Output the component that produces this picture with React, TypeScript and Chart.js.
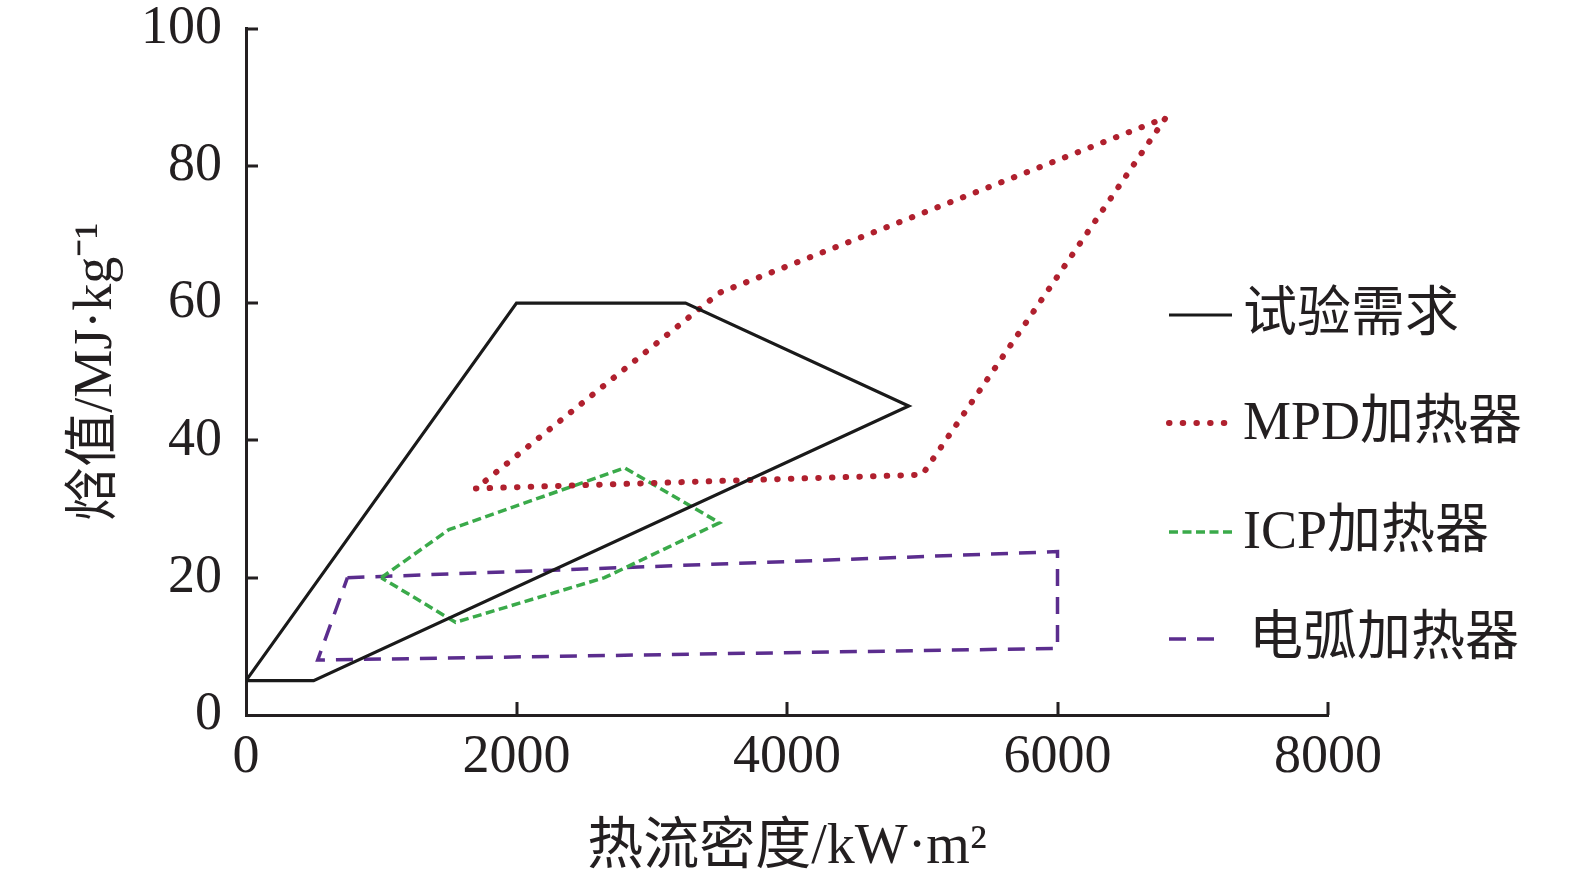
import React, { useEffect, useRef } from "react";
import { Chart, registerables } from "chart.js";

Chart.register(...registerables);

// ---- data ----
const seriesLabels = ["试验需求", "MPD加热器", "ICP加热器", "电弧加热器"];

const demandX = [0, 500, 4900, 3250, 2000, 0];
const demandY = [5, 5, 45, 60, 60, 5];

const mpdX = [1700, 5000, 6800, 3500, 1700];
const mpdY = [33, 35, 87, 61.5, 33];

const icpX = [1000, 1500, 2800, 3500, 2650, 1550, 1000];
const icpY = [20, 27, 36, 28, 20, 13.5, 20];

const arcX = [750, 6000, 6000, 530, 750];
const arcY = [20, 23.8, 9.7, 8, 20];

const xTickValues = [0, 2000, 4000, 6000, 8000];
const yTickValues = [0, 20, 40, 60, 80, 100];

const xTitle = "热流密度/kW·m²";
const yTitle = "焓值/MJ·kg⁻¹";

const pts = (xs: number[], ys: number[]) => xs.map((x, i) => ({ x, y: ys[i] }));

const FONT = '"Liberation Serif", "Times New Roman", "Noto Sans CJK SC", serif';
const INK = "#231f20";

const inwardTicks = {
  id: "inwardTicks",
  afterDraw(chart: any) {
    const { ctx, scales } = chart;
    const x = scales.x;
    const y = scales.y;
    ctx.save();
    ctx.strokeStyle = INK;
    ctx.lineWidth = 3;
    ctx.lineCap = "butt";
    ctx.beginPath();
    x.ticks.forEach((t: any) => {
      if (t.value === 0) return;
      const px = Math.round(x.getPixelForValue(t.value));
      ctx.moveTo(px, x.top);
      ctx.lineTo(px, x.top - 13);
    });
    y.ticks.forEach((t: any) => {
      if (t.value === 0) return;
      const py = Math.round(y.getPixelForValue(t.value));
      ctx.moveTo(y.right, py);
      ctx.lineTo(y.right + 12, py);
    });
    ctx.stroke();
    ctx.restore();
  },
};

const customLegend = {
  id: "customLegend",
  afterDraw(chart: any, _args: any, opts: any) {
    const { ctx } = chart;
    const startX = opts.x;
    const textX = opts.textX;
    const rows = opts.rows;
    const lens = opts.lengths;
    ctx.save();
    chart.data.datasets.forEach((ds: any, i: number) => {
      const yy = rows[i];
      ctx.beginPath();
      ctx.strokeStyle = ds.borderColor;
      ctx.lineWidth = ds.borderWidth;
      ctx.lineCap = ds.borderCapStyle || "butt";
      ctx.setLineDash(ds.borderDash || []);
      ctx.moveTo(startX, yy);
      ctx.lineTo(startX + lens[i], yy);
      ctx.stroke();
      ctx.setLineDash([]);
      ctx.fillStyle = INK;
      ctx.font = `54px ${FONT}`;
      ctx.textBaseline = "middle";
      ctx.textAlign = "left";
      ctx.fillText(ds.label, textX + (opts.textShift[i] || 0), yy + 2);
    });
    ctx.restore();
  },
};

export default function App() {
  const ref = useRef<HTMLCanvasElement | null>(null);

  useEffect(() => {
    if (!ref.current) return;
    const chart = new Chart(ref.current, {
      type: "scatter",
      data: {
        datasets: [
          {
            label: seriesLabels[0],
            data: pts(demandX, demandY),
            borderColor: "#1a1a1a",
            borderWidth: 3.2,
            borderDash: [],
            borderCapStyle: "butt",
            borderJoinStyle: "miter",
          },
          {
            label: seriesLabels[1],
            data: pts(mpdX, mpdY),
            borderColor: "#b0202e",
            borderWidth: 6,
            borderDash: [0.5, 13.2],
            borderCapStyle: "round",
            borderJoinStyle: "round",
          },
          {
            label: seriesLabels[2],
            data: pts(icpX, icpY),
            borderColor: "#3aaa4a",
            borderWidth: 3.5,
            borderDash: [9, 4.5],
            borderCapStyle: "butt",
            borderJoinStyle: "miter",
          },
          {
            label: seriesLabels[3],
            data: pts(arcX, arcY),
            borderColor: "#5b2d8e",
            borderWidth: 3.5,
            borderDash: [17, 11],
            borderCapStyle: "butt",
            borderJoinStyle: "miter",
          },
        ].map((d) => ({
          ...d,
          showLine: true,
          fill: false,
          tension: 0,
          pointRadius: 0,
          pointHoverRadius: 0,
        })) as any,
      },
      options: {
        responsive: false,
        animation: false,
        events: [],
        layout: { padding: { left: 0, right: 247, top: 28.5, bottom: 0 } },
        plugins: {
          legend: { display: false },
          tooltip: { enabled: false },
          customLegend: {
            x: 1169,
            textX: 1243,
            rows: [315, 423, 532, 639],
            lengths: [63, 62, 63, 46],
            textShift: [0, 0, 0, 6],
          },
        } as any,
        scales: {
          x: {
            type: "linear",
            min: 0,
            max: 8000,
            afterBuildTicks: (s: any) => {
              s.ticks = xTickValues.map((v) => ({ value: v }));
            },
            afterFit: (s: any) => {
              s.height = 164;
              s.paddingLeft = 0;
              s.paddingRight = 0;
            },
            grid: { display: false, drawTicks: false },
            border: { display: true, color: INK, width: 3 },
            ticks: {
              color: INK,
              padding: 16,
              maxRotation: 0,
              autoSkip: false,
              font: { family: FONT, size: 54, lineHeight: 1 },
              callback: (v: any) => String(v),
            },
            title: {
              display: true,
              text: xTitle,
              color: INK,
              font: { family: FONT, size: 56, lineHeight: 1 },
              padding: { top: 0, bottom: 3 },
            },
          },
          y: {
            type: "linear",
            min: 0,
            max: 100,
            afterBuildTicks: (s: any) => {
              s.ticks = yTickValues.map((v) => ({ value: v }));
            },
            afterFit: (s: any) => {
              s.width = 246;
              s.paddingTop = 0;
              s.paddingBottom = 0;
            },
            grid: { display: false, drawTicks: false },
            border: { display: true, color: INK, width: 3 },
            ticks: {
              color: INK,
              padding: 24,
              autoSkip: false,
              font: { family: FONT, size: 54, lineHeight: 1 },
              callback: (v: any) => String(v),
            },
            title: {
              display: true,
              text: yTitle,
              color: INK,
              font: { family: FONT, size: 54, lineHeight: 1.2 },
              padding: { top: 64, bottom: 0 },
            },
          },
        },
      } as any,
      plugins: [inwardTicks, customLegend] as any,
    });
    return () => chart.destroy();
  }, []);

  return (
    <div style={{ position: "absolute", left: 0, top: 0, width: 1575, height: 879, background: "#fff" }}>
      <canvas ref={ref} width={1575} height={879} style={{ display: "block" }} />
    </div>
  );
}
